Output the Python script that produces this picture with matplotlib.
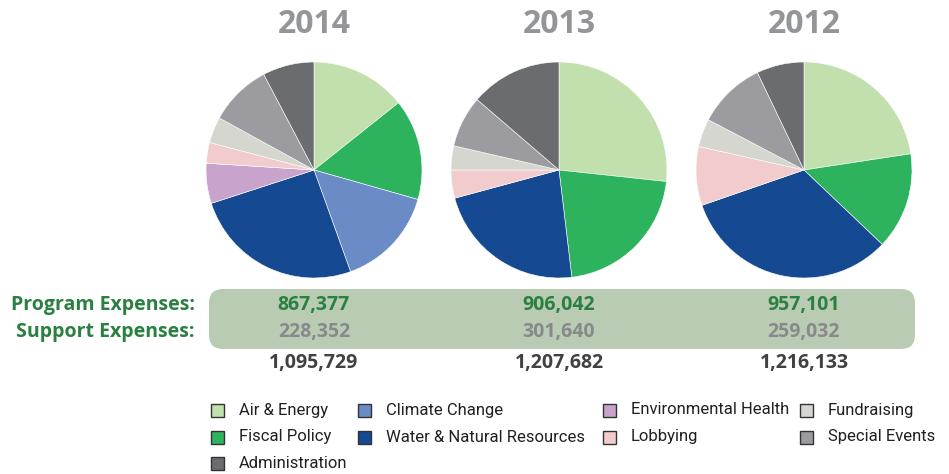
import matplotlib
matplotlib.use("Agg")
import matplotlib.pyplot as plt
from matplotlib.patches import FancyBboxPatch, Rectangle

# categories, clockwise from 12 o'clock
categories = ['Air & Energy', 'Fiscal Policy', 'Climate Change', 'Water & Natural Resources',
              'Environmental Health', 'Lobbying', 'Fundraising', 'Special Events', 'Administration']
colors = ['#c1e0ae', '#2db25e', '#6a8bc6', '#154a92', '#c8a3cc',
          '#f2cccc', '#d5d6d0', '#9c9ca0', '#6b6c70']

years = ['2014', '2013', '2012']
# share of total expenses (%)
share_2014 = [14.3, 15.1, 15.1, 25.5, 6.0, 3.1, 3.9, 9.3, 7.7]
share_2013 = [26.7, 21.4, 0.0, 22.7, 0.0, 4.2, 3.6, 7.7, 13.7]
share_2012 = [22.6, 14.5, 0.0, 32.6, 0.0, 8.8, 4.2, 10.2, 7.1]
shares = [share_2014, share_2013, share_2012]

program = ['867,377', '906,042', '957,101']
support = ['228,352', '301,640', '259,032']
totals = ['1,095,729', '1,207,682', '1,216,133']

W, H = 949, 474
fig = plt.figure(figsize=(W / 100, H / 100), dpi=100)
ax = fig.add_axes([0, 0, 1, 1])

def Y(y):
    # pixel row (top down) to data y
    return H - y

centers_x = [314, 559, 804]
title_font = ['Open Sans', 'DejaVu Sans']
num_font = ['Open Sans', 'DejaVu Sans']
leg_font = ['Roboto', 'DejaVu Sans']

for cx, yr, vals in zip(centers_x, years, shares):
    v = [s for s in vals if s > 0]
    c = [col for s, col in zip(vals, colors) if s > 0]
    ax.pie(v, colors=c, startangle=90, counterclock=False, center=(cx, Y(170)),
           radius=108, wedgeprops=dict(edgecolor='white', linewidth=0.4), frame=True)
    ax.text(cx, Y(24), yr, ha='center', va='center', fontsize=23, fontweight='bold',
            color='#939598', family=title_font)

ax.set_xlim(0, W)
ax.set_ylim(0, H)
ax.set_aspect('equal')
ax.axis('off')

# shaded box behind program / support numbers
box = FancyBboxPatch((209, Y(349)), 915 - 209, 60,
                     boxstyle='round,pad=0,rounding_size=14',
                     facecolor='#bacbb4', edgecolor='none')
ax.add_patch(box)

green = '#2a8040'
ax.text(195, Y(305), 'Program Expenses:', ha='right', va='center', fontsize=14,
        fontweight='bold', color=green, family=num_font)
ax.text(195, Y(332), 'Support Expenses:', ha='right', va='center', fontsize=14,
        fontweight='bold', color=green, family=num_font)

for cx, p, s, t in zip(centers_x, program, support, totals):
    ax.text(cx, Y(305), p, ha='center', va='center', fontsize=14, fontweight='bold',
            color=green, family=num_font)
    ax.text(cx, Y(332), s, ha='center', va='center', fontsize=14, fontweight='bold',
            color='#87898a', family=num_font)
    ax.text(cx, Y(363), t, ha='center', va='center', fontsize=14, fontweight='bold',
            color='#414042', family=num_font)

# legend, laid out like the original
leg_cols = [211, 358, 603, 800]
leg_rows = [410, 437, 463]
leg_pos = [(0, 0), (0, 1), (1, 0), (1, 1), (2, 0), (2, 1), (3, 0), (3, 1), (0, 2)]
for name, col, (ci, ri) in zip(categories, colors, leg_pos):
    x0 = leg_cols[ci]
    y0 = leg_rows[ri]
    ax.add_patch(Rectangle((x0, Y(y0) - 6.5), 13, 13, facecolor=col,
                           edgecolor='#333333', linewidth=1.0))
    ax.text(x0 + 28, Y(y0), name, ha='left', va='center', fontsize=12,
            color='#231f20', family=leg_font)

fig.savefig('out.png', dpi=100)
